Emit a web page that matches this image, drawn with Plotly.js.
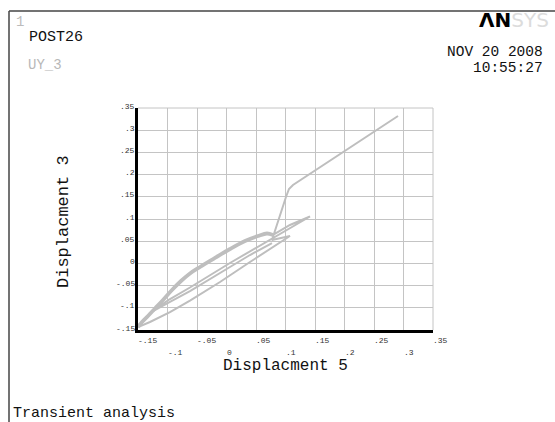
<!DOCTYPE html>
<html>
<head>
<meta charset="utf-8">
<script src="https://cdn.plot.ly/plotly-3.0.1.min.js"></script>
<style>html,body{margin:0;padding:0;background:#fff;} #chart{width:555px;height:422px;}</style>
</head>
<body>
<div id="chart"></div>
<script>
// ---- data ----
const xTickVals = [-0.15, -0.1, -0.05, 0, 0.05, 0.1, 0.15, 0.2, 0.25, 0.3, 0.35];
const xTickText = ['-.15', '-.1', '-.05', '0', '.05', '.1', '.15', '.2', '.25', '.3', '.35'];
const yTickVals = [-0.15, -0.1, -0.05, 0, 0.05, 0.1, 0.15, 0.2, 0.25, 0.3, 0.35];
const yTickText = ['-.15', '-.1', '-.05', '0', '.05', '.1', '.15', '.2', '.25', '.3', '.35'];

// inner return branch (knee -> lower left)
const middleX = [0.0771, 0.0398, 0.0059, -0.028, -0.0619, -0.0958, -0.1246, -0.1314];
const middleY = [0.0459, 0.0189, -0.0081, -0.0351, -0.0622, -0.0869, -0.1072, -0.114];
// branch back up to the right tip and wedge back to the knee
const lineAX = [-0.1212, -0.0958, -0.0619, 0.0059, 0.0737, 0.1076, 0.1415, 0.1076, 0.0788];
const lineAY = [-0.1027, -0.0802, -0.0543, 0.0009, 0.0527, 0.0797, 0.1056, 0.0865, 0.0651];
// upper (thick) arc, from lower-left corner to the knee
const arcX = [-0.15, -0.1432, -0.1331, -0.1212, -0.1076, -0.0924, -0.0771, -0.0619, -0.0449, -0.0195, 0.0059, 0.0314, 0.0534, 0.0686, 0.0788];
const arcY = [-0.1432, -0.132, -0.1185, -0.1016, -0.0824, -0.0599, -0.0396, -0.0227, -0.0081, 0.0122, 0.0324, 0.0505, 0.0617, 0.0673, 0.064];
// lowest branch, lower-left corner up to the small tip and back to the knee
const lowX = [-0.1297, -0.0958, -0.0619, -0.011, 0.0398, 0.0822, 0.1076, 0.0771];
const lowY = [-0.132, -0.1095, -0.0836, -0.0419, 0.0032, 0.0392, 0.0617, 0.0527];
// final steep rise and straight run
const riseX = [0.0839, 0.0924, 0.1008, 0.1059, 0.1127, 0.2907];
const riseY = [0.082, 0.1158, 0.1495, 0.1676, 0.1766, 0.332];

// ---- layout geometry ----
const W = 555, H = 422;
const L = 138, R = 433, T = 108, B = 330;
const px2x = p => (p - L) / (R - L);
const py2y = p => (B - p) / (B - T);

const pathX = [].concat(middleX, lineAX, arcX.slice().reverse(), lowX, riseX);
const pathY = [].concat(middleY, lineAY, arcY.slice().reverse(), lowY, riseY);

const curveColor = '#bebebe';
const traces = [
  {x: pathX, y: pathY, type: 'scatter', mode: 'lines', line: {color: curveColor, width: 2}, hoverinfo: 'skip'},
  {x: arcX, y: arcY, type: 'scatter', mode: 'lines', line: {color: curveColor, width: 3.8, shape: 'spline'}, hoverinfo: 'skip'}
];

const mono = 'Liberation Mono, Courier New, monospace';
const ann = [];
xTickVals.forEach((v, i) => {
  ann.push({xref: 'x', yref: 'paper', x: v, y: py2y(i % 2 === 0 ? 340.5 : 352),
    text: xTickText[i], showarrow: false, xanchor: 'left', yanchor: 'middle', xshift: -2,
    font: {family: mono, size: 8, color: '#333'}});
});
yTickVals.forEach((v, i) => {
  ann.push({xref: 'paper', yref: 'y', x: px2x(137), y: v,
    text: yTickText[i], showarrow: false, xanchor: 'right', yanchor: 'middle', yshift: 2,
    font: {family: mono, size: 8, color: '#333'}});
});
function txt(text, px, py, size, color, xanchor, extra) {
  ann.push(Object.assign({xref: 'paper', yref: 'paper', x: px2x(px), y: py2y(py), text: text,
    showarrow: false, xanchor: xanchor, yanchor: 'middle',
    font: {family: mono, size: size, color: color}}, extra || {}));
}
txt('1', 14, 22, 14, '#bbbbbb', 'left');
txt('POST26', 27, 38, 15, '#111', 'left');
txt('UY_3', 26, 65, 14, '#b8b8b8', 'left');
txt('NOV 20 2008', 545, 52, 14.5, '#111', 'right');
txt('10:55:27', 545, 68, 14.5, '#111', 'right');
txt('<b>ΛN</b><span style="color:#dcdcdc">SYS</span>', 477, 20, 20, '#000', 'left',
  {font: {family: 'DejaVu Sans, Arial, sans-serif', size: 20, color: '#000'}});
txt('Transient analysis', 11, 413, 15, '#111', 'left');
txt('Displacment 5', 285.5, 366, 16, '#111', 'center');
txt('Displacment 3', 63, 222, 17, '#111', 'center', {textangle: -90});

const shapes = [
  {type: 'line', xref: 'paper', yref: 'paper', x0: px2x(9), x1: px2x(560), y0: py2y(11), y1: py2y(11), line: {color: '#444', width: 1.5}},
  {type: 'line', xref: 'paper', yref: 'paper', x0: px2x(9), x1: px2x(9), y0: py2y(11), y1: py2y(430), line: {color: '#444', width: 1.5}},
  {type: 'line', xref: 'paper', yref: 'paper', x0: 0, x1: 1, y0: 1, y1: 1, line: {color: '#c4c4c4', width: 1}},
  {type: 'line', xref: 'paper', yref: 'paper', x0: 1, x1: 1, y0: 0, y1: 1, line: {color: '#c4c4c4', width: 1}}
];

const layout = {
  width: W, height: H,
  margin: {l: L, r: W - R, t: T, b: H - B, pad: 0},
  paper_bgcolor: '#fff', plot_bgcolor: '#fff',
  showlegend: false,
  xaxis: {range: [-0.15, 0.35], tickvals: xTickVals, showticklabels: false, ticks: '',
    showgrid: true, gridcolor: '#c4c4c4', gridwidth: 1, zeroline: false,
    showline: true, linecolor: '#000', linewidth: 3, fixedrange: true},
  yaxis: {range: [-0.15, 0.35], tickvals: yTickVals, showticklabels: false, ticks: '',
    showgrid: true, gridcolor: '#c4c4c4', gridwidth: 1, zeroline: false,
    showline: true, linecolor: '#000', linewidth: 3, fixedrange: true},
  annotations: ann,
  shapes: shapes
};

Plotly.newPlot('chart', traces, layout, {staticPlot: true, displayModeBar: false});
</script>
</body>
</html>
